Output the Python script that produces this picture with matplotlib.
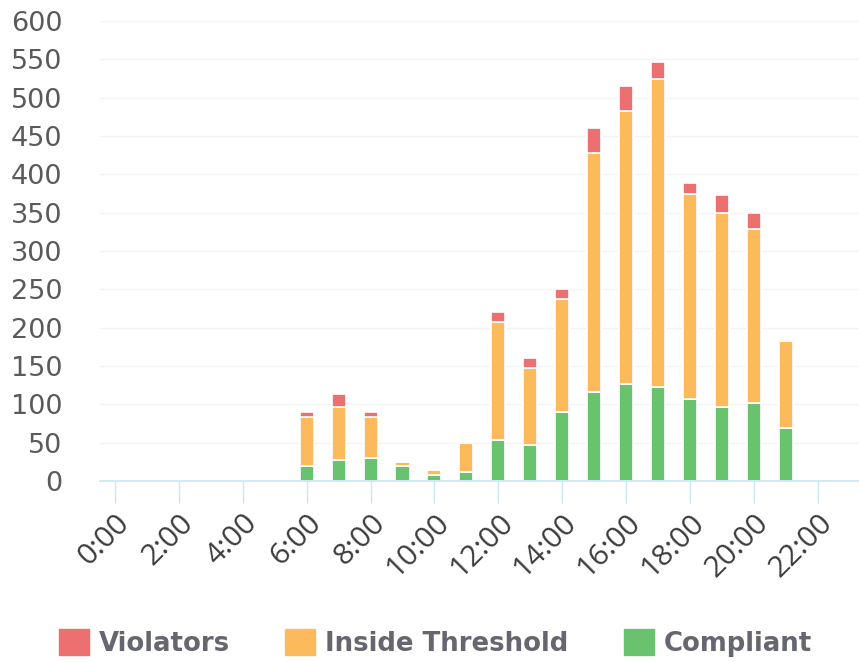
import matplotlib.pyplot as plt
from matplotlib.patches import Patch
import numpy as np

hours = np.arange(6, 22)
compliant = [20, 27, 30, 20, 8, 12, 53, 47, 90, 116, 127, 123, 107, 96, 102, 69]
inside = [64, 70, 53, 5, 7, 37, 155, 100, 148, 312, 356, 401, 267, 254, 227, 113]
violators = [6, 16, 7, 0, 0, 0, 13, 13, 13, 33, 32, 22, 15, 23, 20, 0]

tick_hours = list(range(0, 23, 2))
tick_labels = [f"{h}:00" for h in tick_hours]

red = "#ec7070"
orange = "#fdba5c"
green = "#69c26d"
axis_blue = "#c8e7f4"

fig = plt.figure(figsize=(8.59, 6.62), dpi=100)
ax = fig.add_axes([100 / 859, 1 - 481 / 662, 759 / 859, 460 / 662])

compliant = np.array(compliant)
inside = np.array(inside)
violators = np.array(violators)

w = 0.44
ax.bar(hours, compliant, width=w, color=green, edgecolor="white", linewidth=1.2)
ax.bar(hours, inside, width=w, bottom=compliant, color=orange,
       edgecolor="white", linewidth=1.2)
ax.bar(hours, violators, width=w, bottom=compliant + inside, color=red,
       edgecolor="white", linewidth=1.2)

ax.set_xlim(-0.47, 23.29)
ax.set_ylim(0, 600)
ax.set_yticks(range(0, 601, 50))
ax.set_xticks(tick_hours)
ax.set_xticklabels(tick_labels, rotation=45, ha="right", va="top",
                   rotation_mode="anchor", fontsize=21.5, color="#3c3c3c",
                   family=["Open Sans", "DejaVu Sans"])

for side in ["left", "right", "top"]:
    ax.spines[side].set_visible(False)
ax.spines["bottom"].set_color(axis_blue)
ax.spines["bottom"].set_linewidth(1.2)

ax.tick_params(axis="y", length=0, pad=27, labelsize=19.5, labelcolor="#5a5a5a")
ax.tick_params(axis="x", length=16, width=1, color=axis_blue, pad=4)

ax.yaxis.grid(True, color="#f4f4f4", linewidth=1)
ax.set_axisbelow(True)

handles = [Patch(color=red, label="Violators"),
           Patch(color=orange, label="Inside Threshold"),
           Patch(color=green, label="Compliant")]
leg = fig.legend(handles=handles, loc="center", bbox_to_anchor=(0.507, 1 - 643 / 662),
                 ncol=3, frameon=False, handlelength=1.15, handleheight=1.15,
                 handletextpad=0.38, columnspacing=2.15,
                 prop={"size": 18.7, "weight": "bold"})
for t in leg.get_texts():
    t.set_color("#666670")

fig.savefig("out.png", dpi=100)
